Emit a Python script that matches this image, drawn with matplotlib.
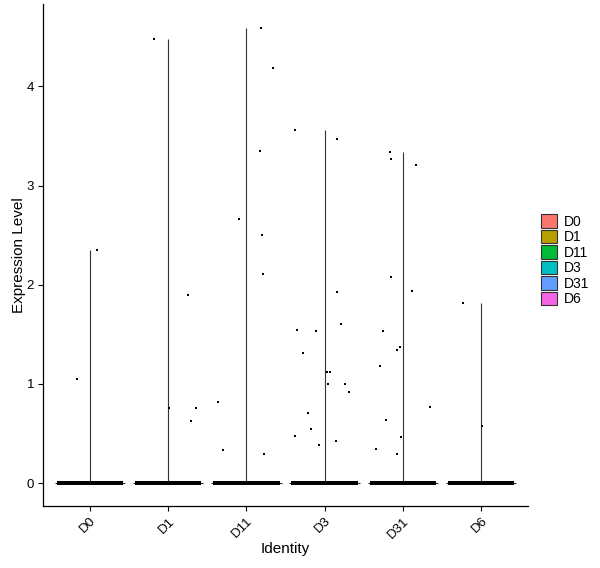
import numpy as np
import matplotlib
matplotlib.use('Agg')
import matplotlib.pyplot as plt
from matplotlib.patches import Patch

plt.rcParams['font.family'] = ['Liberation Sans', 'DejaVu Sans']

groups = ['D0', 'D1', 'D11', 'D3', 'D31', 'D6']
colors = ['#F8766D', '#B79F00', '#00BA38', '#00BFC4', '#619CFF', '#F564E3']

# non-zero expression values per group, with the jitter offset seen in the picture
vals = {
    'D0': [1.05, 2.35],
    'D1': [4.48, 1.90, 0.76, 0.76, 0.63],
    'D11': [4.59, 4.18, 3.35, 2.66, 2.50, 2.11, 0.82, 0.33, 0.29],
    'D3': [3.56, 3.47, 1.93, 1.60, 1.54, 1.53, 1.31, 1.12, 1.12, 1.00, 1.00,
           0.92, 0.71, 0.55, 0.48, 0.43, 0.38],
    'D31': [3.34, 3.27, 3.21, 2.08, 1.94, 1.53, 1.37, 1.34, 1.18, 0.77, 0.64,
            0.47, 0.34, 0.29],
    'D6': [1.82, 0.58],
}
jit = {
    'D0': [-0.16, 0.09],
    'D1': [-0.18, 0.25, 0.01, 0.36, 0.29],
    'D11': [0.19, 0.34, 0.18, -0.09, 0.20, 0.21, -0.36, -0.30, 0.23],
    'D3': [-0.38, 0.16, 0.16, 0.21, -0.35, -0.11, -0.28, 0.03, 0.07, 0.04, 0.26,
           0.31, -0.21, -0.17, -0.38, 0.15, -0.07],
    'D31': [-0.17, -0.15, 0.17, -0.15, 0.12, -0.25, -0.03, -0.08, -0.29, 0.35,
            -0.21, -0.02, -0.34, -0.08],
    'D6': [-0.23, 0.01],
}
n_zero = [400, 400, 400, 400, 400, 400]

fig = plt.figure(figsize=(6, 5.68), dpi=100)
ax = fig.add_axes([43/600, 62/568, 485/600, 502/568])

for i, g in enumerate(groups):
    x = i + 1
    v = np.array(vals[g])
    # violin collapses to a spike at 0 plus a thin line up to the max
    ax.vlines(x, 0, v.max(), color='#333333', lw=0.8, zorder=1)
    ax.hlines(0, x - 0.45, x + 0.45, color='#333333', lw=0.8, zorder=1)
    # jittered cells
    zx = x + np.linspace(-0.4, 0.4, n_zero[i])
    ax.scatter(zx, np.zeros(n_zero[i]), s=5, marker='s', color='black',
               linewidths=0, zorder=2)
    ax.scatter(x + np.array(jit[g]), v, s=3, marker='s', color='black',
               linewidths=0, zorder=2)

ax.set_xlim(0.4, 6.6)
ax.set_ylim(-0.23, 4.83)
ax.set_xticks(range(1, 7))
ax.set_xticklabels(groups, rotation=45, ha='right', rotation_mode='anchor')
ax.set_yticks([0, 1, 2, 3, 4])
for s in ['top', 'right']:
    ax.spines[s].set_visible(False)
for s in ['left', 'bottom']:
    ax.spines[s].set_linewidth(0.9)
ax.tick_params(labelsize=9.5, length=3.5, width=0.8, colors='black', pad=3)
ax.set_xlabel('Identity', fontsize=11, labelpad=1)
ax.set_ylabel('Expression Level', fontsize=11, labelpad=0)

handles = [Patch(facecolor=c, edgecolor='#333333', linewidth=0.8) for c in colors]
fig.legend(handles, groups, loc='center left', bbox_to_anchor=(0.893, 0.542),
           frameon=False, fontsize=10, handlelength=1.15, handleheight=1.1,
           labelspacing=0.08, handletextpad=0.5, borderaxespad=0)

fig.savefig('out.png', dpi=100)
